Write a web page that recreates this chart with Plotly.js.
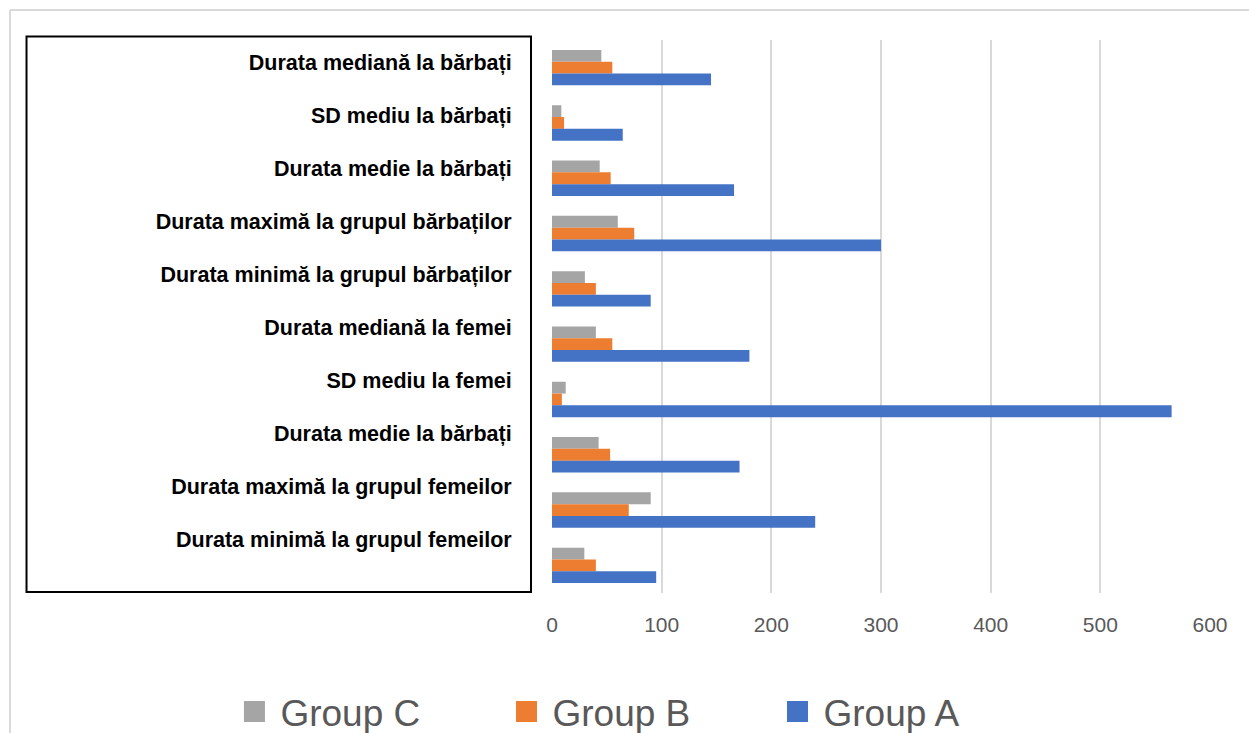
<!DOCTYPE html>
<html>
<head>
<meta charset="utf-8">
<script src="https://cdn.plot.ly/plotly-3.0.1.min.js"></script>
<style>
  html, body { margin: 0; padding: 0; background: #ffffff; }
  #chart { width: 1249px; height: 733px; }
</style>
</head>
<body>
<div id="chart"></div>
<script>
// Row labels, top to bottom
const categories = [
  'Durata mediană la bărbați',
  'SD mediu la bărbați',
  'Durata medie la bărbați',
  'Durata maximă la grupul bărbaților',
  'Durata minimă la grupul bărbaților',
  'Durata mediană la femei',
  'SD mediu la femei',
  'Durata medie la bărbați',
  'Durata maximă la grupul femeilor',
  'Durata minimă la grupul femeilor'
];

const groupC = [45, 8.5, 43.5, 60, 30, 40, 12.5, 42.5, 90, 29.5];
const groupB = [55, 11, 53.5, 75, 40, 55, 9, 53, 70, 40];
const groupA = [145, 64.5, 166, 300, 90, 180, 565, 171, 240, 95];

const seriesNames = ['Group C', 'Group B', 'Group A'];
const seriesValues = [groupC, groupB, groupA];
const seriesColors = ['#a5a5a5', '#ed7d31', '#4472c4'];

const xTicks = [0, 100, 200, 300, 400, 500, 600];

// Rows are positioned by index so repeated labels stay separate rows
const rowIndex = categories.map((_, i) => i);

const barTraces = seriesValues.map((vals, k) => ({
  type: 'bar',
  orientation: 'h',
  name: seriesNames[k],
  x: vals,
  y: rowIndex,
  marker: { color: seriesColors[k] },
  showlegend: false,
  hoverinfo: 'x+name'
}));

// One legend per series so the entries can sit spread across the bottom
const legendIds = ['legend', 'legend2', 'legend3'];
const legendX = [0.1829, 0.4007, 0.6177];

// Legend entries with larger square swatches (they live on the label axis)
const legendTraces = seriesNames.map((name, k) => ({
  type: 'scatter',
  mode: 'markers',
  name: name,
  legend: legendIds[k],
  x: [null],
  y: [null],
  yaxis: 'y2',
  marker: { symbol: 'square', size: 16, color: seriesColors[k],
            line: { color: seriesColors[k], width: 5 } },
  hoverinfo: 'skip'
}));

const gridGray = '#d9d9d9';

const layout = {
  width: 1249,
  height: 733,
  margin: { l: 552, r: 39, t: 40, b: 140, autoexpand: false },
  paper_bgcolor: '#ffffff',
  plot_bgcolor: '#ffffff',
  font: { family: 'Liberation Sans, Arial, sans-serif', color: '#595959' },
  barmode: 'group',
  bargap: 0.36,
  bargroupgap: 0,
  xaxis: {
    range: [0, 600],
    tickvals: xTicks,
    showgrid: true,
    gridcolor: gridGray,
    gridwidth: 2,
    zeroline: false,
    showline: false,
    ticks: 'outside',
    ticklen: 13,
    tickcolor: 'rgba(0,0,0,0)',
    tickfont: { size: 21, color: '#595959' },
    automargin: false,
    fixedrange: true
  },
  yaxis: {
    range: [categories.length - 0.5, -0.5],
    showticklabels: false,
    showgrid: false,
    zeroline: false,
    ticks: '',
    automargin: false,
    fixedrange: true
  },
  // Label axis for the row names in the framed panel
  yaxis2: {
    overlaying: 'y',
    anchor: 'x',
    side: 'left',
    range: [10.0, -0.414],
    tickmode: 'array',
    tickvals: rowIndex,
    ticktext: categories,
    showgrid: false,
    zeroline: false,
    showline: false,
    ticks: 'outside',
    ticklen: 35,
    tickcolor: 'rgba(0,0,0,0)',
    tickfont: { size: 21.5, color: '#000000', weight: 'bold' },
    automargin: false,
    fixedrange: true
  },
  shapes: [
    // frame around the row labels
    { type: 'rect', xref: 'paper', yref: 'paper',
      x0: -0.7986, x1: -0.0319, y0: 0.0018, y1: 1.0063,
      line: { color: '#000000', width: 2 } },
    // outer chart border (left and top edges)
    { type: 'line', xref: 'paper', yref: 'paper',
      x0: -0.8237, x1: -0.8237, y0: 1.0542, y1: -0.26,
      line: { color: gridGray, width: 2 } },
    { type: 'line', xref: 'paper', yref: 'paper',
      x0: -0.8237, x1: 1.07, y0: 1.0542, y1: 1.0542,
      line: { color: gridGray, width: 2 } }
  ]
};

legendIds.forEach((id, k) => {
  layout[id] = {
    orientation: 'h',
    xref: 'container',
    yref: 'container',
    x: legendX[k],
    xanchor: 'left',
    y: 0.0286,
    yanchor: 'middle',
    itemwidth: 42,
    font: { size: 37, color: '#595959' },
    bgcolor: 'rgba(0,0,0,0)'
  };
});

Plotly.newPlot('chart', barTraces.concat(legendTraces), layout,
  { displayModeBar: false, staticPlot: true });
</script>
</body>
</html>
